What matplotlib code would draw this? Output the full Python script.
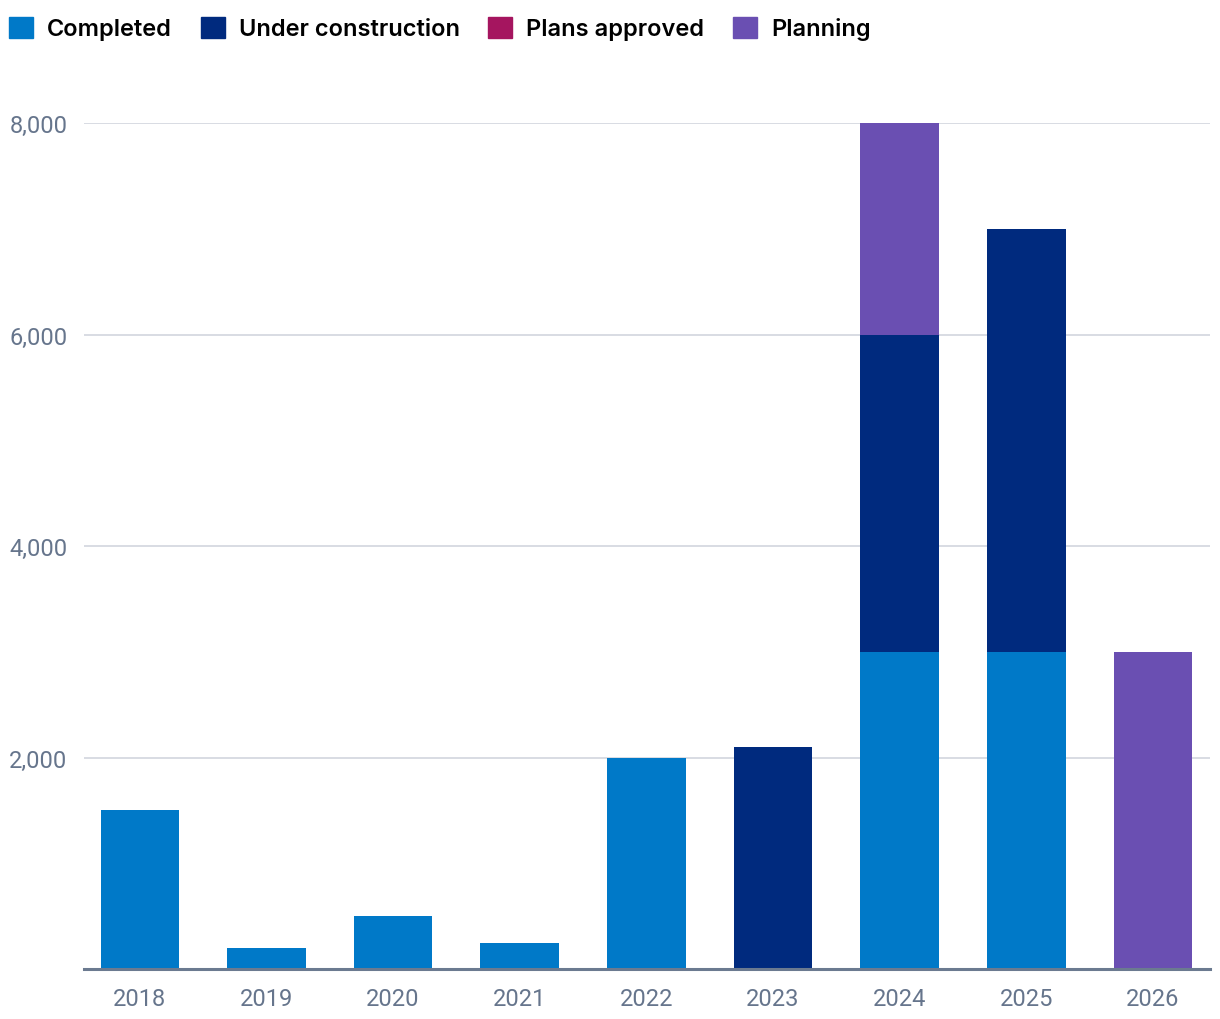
import numpy as np
import matplotlib.pyplot as plt
from matplotlib.patches import Patch

years = ['2018', '2019', '2020', '2021', '2022', '2023', '2024', '2025', '2026']
completed = [1500, 200, 500, 250, 2000, 0, 3000, 3000, 0]
under_construction = [0, 0, 0, 0, 0, 2100, 3000, 4000, 0]
plans_approved = [0, 0, 0, 0, 0, 0, 0, 0, 0]
planning = [0, 0, 0, 0, 0, 0, 2000, 0, 3000]

series = [
    ('Completed', completed, '#0079c8'),
    ('Under construction', under_construction, '#002a7e'),
    ('Plans approved', plans_approved, '#a5155f'),
    ('Planning', planning, '#6a4fb2'),
]

fig = plt.figure(figsize=(12.2, 10.2), dpi=100)
ax = fig.add_axes([0.0689, 0.049, 0.9229, 0.8294])

x = np.arange(len(years))
bottom = np.zeros(len(years))
for name, vals, col in series:
    vals = np.array(vals, dtype=float)
    ax.bar(x, vals, width=0.62, bottom=bottom, color=col, zorder=3)
    bottom += vals

ax.set_xlim(-0.44, 8.45)
ax.set_ylim(0, 8000)
ax.set_yticks([2000, 4000, 6000, 8000])
ax.set_yticklabels(['2,000', '4,000', '6,000', '8,000'])
ax.set_xticks(x)
ax.set_xticklabels(years)
ax.grid(axis='y', color='#d5d9e0', linewidth=1.3, zorder=0)
for s in ['top', 'right', 'left']:
    ax.spines[s].set_visible(False)
ax.spines['bottom'].set_color('#6b7a90')
ax.spines['bottom'].set_linewidth(2.2)
ax.spines['bottom'].set_zorder(4)
ax.tick_params(axis='both', length=0, labelsize=17, labelcolor='#66758c')
ax.tick_params(axis='y', pad=12)
ax.tick_params(axis='x', pad=13)
for lbl in ax.get_xticklabels() + ax.get_yticklabels():
    lbl.set_family('Roboto')

handles = [Patch(color=col, label=name) for name, vals, col in series]
fig.legend(handles=handles, loc='upper left', bbox_to_anchor=(0.0, 0.992), ncol=4,
           frameon=False, prop={'family': 'Inter', 'weight': 'semibold', 'size': 17},
           handlelength=1.0, handleheight=1.0, handletextpad=0.6, columnspacing=1.22,
           borderaxespad=0.2, borderpad=0.2)

fig.savefig('out.png', dpi=100)
